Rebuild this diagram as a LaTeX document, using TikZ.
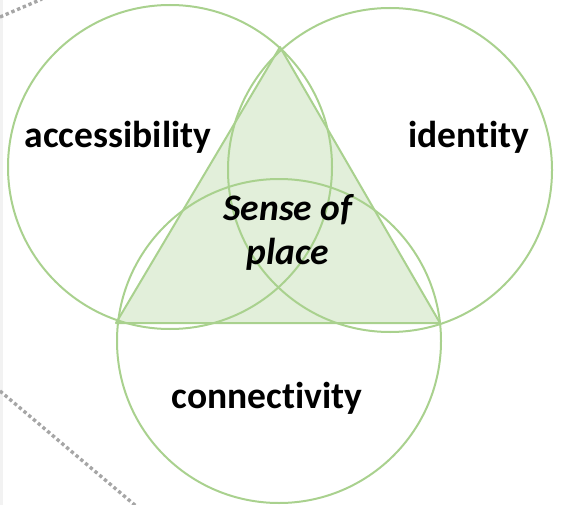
\documentclass[tikz,border=0pt]{standalone}
\usepackage{fontspec}
\setmainfont[RawFeature=-liga]{Carlito}
\definecolor{ring}{HTML}{A9D18E}
\definecolor{tri}{HTML}{E2EFDA}
\definecolor{dotg}{HTML}{A6A6A6}
\definecolor{strip}{HTML}{F2F2F2}
\tikzset{
  ringline/.style={draw=ring, line width=2pt},
  label/.style={font=\fontsize{37.5}{42}\selectfont\bfseries, text=black, inner sep=0pt},
  dotline/.style={draw=dotg, line width=3.4pt, dash pattern=on 3.4pt off 2.8pt},
}
\begin{document}
\begin{tikzpicture}[x=1pt,y=-1pt]
\useasboundingbox (0,0) rectangle (564,505);
\fill[strip] (0,0) rectangle (3,505);
\coordinate (d1) at (0,17);
\coordinate (d2) at (42,-1);
\coordinate (d3) at (0,391);
\coordinate (d4) at (136,506);
\draw[dotline] (d1) -- (d2);
\draw[dotline] (d3) -- (d4);
\coordinate (apex) at (280,47);
\coordinate (bl) at (116,323);
\coordinate (br) at (440,323);
\fill[tri] (apex) -- (bl) -- (br) -- cycle;
\coordinate (cl) at (170,167);
\coordinate (cr) at (390,170);
\coordinate (cb) at (279,341);
\draw[ringline] (cl) circle[radius=162];
\draw[ringline] (cr) circle[radius=162];
\draw[ringline] (cb) circle[radius=162];
\draw[ringline, line join=round] (apex) -- (bl) -- (br) -- cycle;
\node[label] (acc) at (118,137) {accessibility};
\node[label] (ide) at (469,137) {identity};
\node[label] (con) at (267,398) {connectivity};
\node[label, font=\fontsize{37.5}{44}\selectfont\bfseries\itshape, align=center] (sop) at (288,232) {Sense of\\place};
\end{tikzpicture}
\end{document}
